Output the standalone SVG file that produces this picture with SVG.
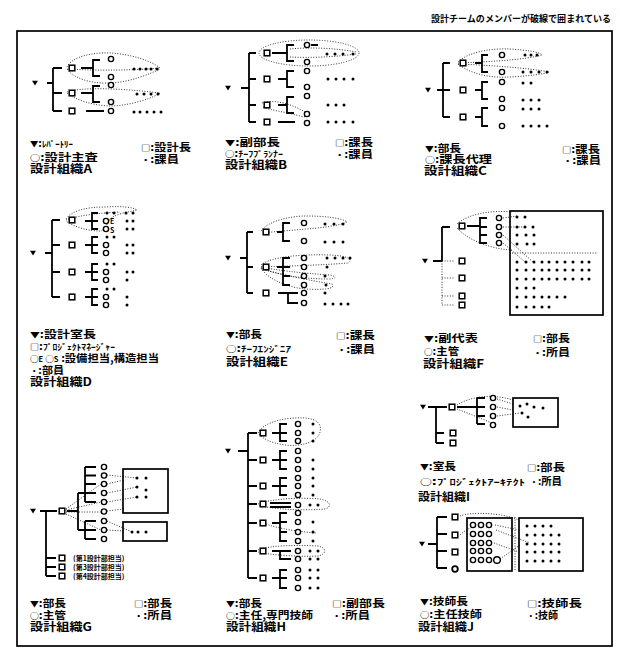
<svg xmlns="http://www.w3.org/2000/svg" width="620" height="651" viewBox="0 0 620 651">
<style>
.ln{fill:none;stroke:#000;stroke-width:1.8}
.dl{fill:none;stroke:#000;stroke-width:0.8;stroke-dasharray:1 1.6}
.bx{fill:none;stroke:#000;stroke-width:1.7}
text{font-family:"Noto Sans CJK JP","Noto Sans CJK SC",sans-serif;font-weight:bold;fill:#000}
.lg{font-size:10.5px}
.ti{font-size:11px}
.sy{font-size:8px}
.kn{font-size:8.5px}
.sm{font-size:7px}
</style>
<defs>
<path id="tri" d="M-3,-2.2 H3 L0,2.6 Z" fill="#000"/>
<rect id="sq" x="-2.8" y="-2.8" width="5.6" height="5.6" fill="#fff" stroke="#000" stroke-width="1.5"/>
<circle id="ci" r="2.6" fill="#fff" stroke="#000" stroke-width="1.4"/>
<circle id="dt" r="1.5" fill="#000"/>
</defs>
<rect x="0" y="0" width="620" height="651" fill="#fff"/>
<text x="431" y="22" font-size="9" textLength="180" lengthAdjust="spacingAndGlyphs">設計チームのメンバーが破線で囲まれている</text>
<rect class="bx" x="17" y="31" width="595" height="615"/>

<!-- Panel A -->
<g id="panel-A">
<g id="A-connectors">
<path class="ln" d="M47,83 H53 M53,68 V111 M53,68 H62 M53,93 H62 M53,111 H62 M81,68 H93 M100,60 H93 V76 H100 M81,93 H93 M100,86 H93 V102 H100 M86,111 H104"/>
<path class="dl" d="M67,67 C72,56 95,52 111,53 C130,54 152,61 160,68 C140,70 100,71 67,69 M67,69 C75,80 95,84 111,83 C130,82 150,74 160,69 M67,92 C80,87 120,88 160,93 C150,100 125,106 111,106 C95,106 75,100 67,93"/>
</g>
<g id="A-nodes">
<use href="#tri" x="35" y="83"/>
<use href="#sq" x="72" y="68"/><use href="#sq" x="72" y="93"/><use href="#sq" x="72" y="111"/>
<use href="#ci" x="111" y="59"/><use href="#ci" x="111" y="77"/><use href="#ci" x="111" y="85"/><use href="#ci" x="111" y="102"/><use href="#ci" x="111" y="111"/>
<use href="#dt" x="134" y="69"/><use href="#dt" x="140" y="69"/><use href="#dt" x="146" y="69"/><use href="#dt" x="151" y="69"/><use href="#dt" x="157" y="69"/>
<use href="#dt" x="137" y="94"/><use href="#dt" x="144" y="94"/><use href="#dt" x="151" y="94"/><use href="#dt" x="158" y="94"/>
<use href="#dt" x="134" y="112"/><use href="#dt" x="140" y="112"/><use href="#dt" x="147" y="112"/><use href="#dt" x="154" y="112"/><use href="#dt" x="161" y="112"/>
</g>
<g id="A-legend">
<text class="lg" x="30" y="147" textLength="43" lengthAdjust="spacingAndGlyphs"><tspan class="sy">▼</tspan>:<tspan class="kn">ﾚﾊﾟｰﾄﾘｰ</tspan></text>
<text class="lg" x="141" y="150.5" textLength="50" lengthAdjust="spacingAndGlyphs"><tspan class="sy">□</tspan>:設計長</text>
<text class="lg" x="30" y="160.5" textLength="68" lengthAdjust="spacingAndGlyphs"><tspan class="sy">○</tspan>:設計主査</text>
<text class="lg" x="141" y="162.5" textLength="38" lengthAdjust="spacingAndGlyphs"><tspan class="sy">・</tspan>:課員</text>
<text class="ti" x="30" y="172.5" textLength="62" lengthAdjust="spacingAndGlyphs">設計組織A</text>
</g>
</g>

<!-- Panel B -->
<g id="panel-B">
<g id="B-connectors">
<path class="ln" d="M241,88 H249 M249,53 V122 M249,53 H256 M249,79 H256 M249,105 H256 M249,122 H256 M272,53 H287 M294,45 H287 V61 H294 M311,45 H318 M278,79 H287 M294,71 H287 V87 H294 M278,105 H287 M294,97 H287 V113 H294 M278,122 H295"/>
<ellipse class="dl" cx="309" cy="53" rx="50" ry="13"/>
<path class="dl" d="M290,49 C310,47 335,48 356,52 M290,57 C310,58 335,57 356,54 M262,103 C275,99 292,104 305,112 C310,116 306,118 300,116 C285,112 270,110 262,107"/>
</g>
<g id="B-nodes">
<use href="#tri" x="228" y="88"/>
<use href="#sq" x="267" y="53"/><use href="#sq" x="267" y="79"/><use href="#sq" x="267" y="105"/><use href="#sq" x="267" y="122"/>
<use href="#ci" x="307" y="45"/><use href="#ci" x="307" y="62"/><use href="#ci" x="307" y="71"/><use href="#ci" x="307" y="87"/><use href="#ci" x="307" y="96"/><use href="#ci" x="307" y="114"/><use href="#ci" x="307" y="123"/>
<use href="#dt" x="327" y="54"/><use href="#dt" x="335" y="54"/><use href="#dt" x="343" y="54"/><use href="#dt" x="353" y="54"/>
<use href="#dt" x="328" y="79"/><use href="#dt" x="336" y="79"/><use href="#dt" x="344" y="79"/><use href="#dt" x="353" y="79"/>
<use href="#dt" x="328" y="105"/><use href="#dt" x="336" y="105"/><use href="#dt" x="344" y="105"/>
<use href="#dt" x="328" y="122"/><use href="#dt" x="336" y="122"/><use href="#dt" x="344" y="122"/><use href="#dt" x="353" y="122"/>
</g>
<g id="B-legend">
<text class="lg" x="225" y="145.5" textLength="55" lengthAdjust="spacingAndGlyphs"><tspan class="sy">▼</tspan>:副部長</text>
<text class="lg" x="335" y="145.5" textLength="38" lengthAdjust="spacingAndGlyphs"><tspan class="sy">□</tspan>:課長</text>
<text class="lg" x="225" y="157" textLength="58" lengthAdjust="spacingAndGlyphs"><tspan class="sy">○</tspan>:<tspan class="kn">ﾁｰﾌﾌﾟﾗﾝﾅｰ</tspan></text>
<text class="lg" x="335" y="157.5" textLength="38" lengthAdjust="spacingAndGlyphs"><tspan class="sy">・</tspan>:課員</text>
<text class="ti" x="225" y="168.5" textLength="62" lengthAdjust="spacingAndGlyphs">設計組織B</text>
</g>
</g>

<!-- Panel C -->
<g id="panel-C">
<g id="C-connectors">
<path class="ln" d="M437,90 H450 M443,63 V117 M443,63 H450 M443,117 H450 M475,63 H482 M488,55 H482 V72 H488 M475,90 H482 M488,82 H482 V99 H488 M475,117 H482 M488,108 H482 V126 H488"/>
<path class="dl" d="M458,62 C468,52 492,48 510,49 C526,50 540,52 542,55 C525,60 485,62 458,63 M458,64 C472,75 492,78 510,77 C528,76 545,74 549,72 C530,68 485,65 458,64"/>
</g>
<g id="C-nodes">
<use href="#tri" x="428" y="90"/>
<use href="#sq" x="463" y="63"/><use href="#sq" x="463" y="90"/><use href="#sq" x="463" y="117"/>
<use href="#ci" x="502" y="55"/><use href="#ci" x="502" y="72"/><use href="#ci" x="502" y="82"/><use href="#ci" x="502" y="99"/><use href="#ci" x="502" y="108"/><use href="#ci" x="502" y="126"/>
<use href="#dt" x="525" y="55"/><use href="#dt" x="531" y="55"/><use href="#dt" x="537" y="55"/>
<use href="#dt" x="523" y="72"/><use href="#dt" x="531" y="72"/><use href="#dt" x="539" y="72"/><use href="#dt" x="547" y="72"/>
<use href="#dt" x="523" y="83"/><use href="#dt" x="531" y="83"/>
<use href="#dt" x="523" y="100"/><use href="#dt" x="531" y="100"/><use href="#dt" x="539" y="100"/>
<use href="#dt" x="523" y="109"/><use href="#dt" x="531" y="109"/><use href="#dt" x="539" y="109"/>
<use href="#dt" x="523" y="126"/><use href="#dt" x="531" y="126"/><use href="#dt" x="539" y="126"/><use href="#dt" x="547" y="126"/>
</g>
<g id="C-legend">
<text class="lg" x="425" y="151.5" textLength="36" lengthAdjust="spacingAndGlyphs"><tspan class="sy">▼</tspan>:部長</text>
<text class="lg" x="562" y="152.5" textLength="38" lengthAdjust="spacingAndGlyphs"><tspan class="sy">□</tspan>:課長</text>
<text class="lg" x="425" y="162.5" textLength="67" lengthAdjust="spacingAndGlyphs"><tspan class="sy">○</tspan>:課長代理</text>
<text class="lg" x="563" y="164" textLength="38" lengthAdjust="spacingAndGlyphs"><tspan class="sy">・</tspan>:課員</text>
<text class="ti" x="424" y="174.5" textLength="63" lengthAdjust="spacingAndGlyphs">設計組織C</text>
</g>
</g>

<!-- Panel D -->
<g id="panel-D">
<g id="D-connectors">
<path class="ln" d="M45,253 H52 M52,220 V297 M52,220 H60 M52,245 H60 M52,272 H60 M52,297 H60 M85,221 H98 M98,213 H92 V229 H98 M85,245 H98 M98,237 H92 V253 H98 M85,272 H98 M98,264 H92 V280 H98 M85,297 H98 M98,289 H92 V305 H98"/>
<path class="dl" d="M66,219 C72,210 88,207 105,207 C120,206 133,207 137,210 C128,212 115,214 110,219 C106,226 104,231 100,231 C88,231 74,227 66,221 M66,220 C80,215 100,213 120,212"/>
</g>
<g id="D-nodes">
<use href="#tri" x="33" y="253"/>
<use href="#sq" x="72" y="220"/><use href="#sq" x="72" y="245"/><use href="#sq" x="72" y="272"/><use href="#sq" x="72" y="297"/>
<use href="#ci" x="106" y="221"/><use href="#ci" x="106" y="229"/><use href="#ci" x="106" y="245"/><use href="#ci" x="106" y="253"/><use href="#ci" x="106" y="272"/><use href="#ci" x="106" y="280"/><use href="#ci" x="106" y="297"/><use href="#ci" x="106" y="305"/>
<text class="sm" x="110" y="224">E</text><text class="sm" x="110" y="232.5">S</text>
<use href="#dt" x="107" y="213"/><use href="#dt" x="114" y="213"/><use href="#dt" x="126" y="213"/><use href="#dt" x="133" y="213"/>
<use href="#dt" x="127" y="221"/><use href="#dt" x="133" y="221"/><use href="#dt" x="127" y="229"/><use href="#dt" x="133" y="229"/>
<use href="#dt" x="107" y="237"/><use href="#dt" x="114" y="237"/><use href="#dt" x="127" y="245"/><use href="#dt" x="133" y="245"/><use href="#dt" x="127" y="253"/><use href="#dt" x="133" y="253"/>
<use href="#dt" x="107" y="264"/><use href="#dt" x="114" y="264"/><use href="#dt" x="127" y="272"/><use href="#dt" x="133" y="272"/><use href="#dt" x="127" y="280"/>
<use href="#dt" x="107" y="289"/><use href="#dt" x="114" y="289"/><use href="#dt" x="127" y="297"/><use href="#dt" x="127" y="305"/>
</g>
<g id="D-legend">
<text class="lg" x="30" y="337.5" textLength="66" lengthAdjust="spacingAndGlyphs"><tspan class="sy">▼</tspan>:設計室長</text>
<text class="lg" x="30" y="349.5" textLength="85" lengthAdjust="spacingAndGlyphs"><tspan class="sy">□</tspan>:<tspan class="kn">ﾌﾟﾛｼﾞｪｸﾄﾏﾈｰｼﾞｬｰ</tspan></text>
<text class="lg" x="30" y="361.5" textLength="129" lengthAdjust="spacingAndGlyphs"><tspan class="sy">○</tspan><tspan class="sm">E</tspan><tspan class="sy"> ○</tspan><tspan class="sm">S</tspan> :設備担当,構造担当</text>
<text class="lg" x="30" y="374" textLength="34" lengthAdjust="spacingAndGlyphs"><tspan class="sy">・</tspan>:部員</text>
<text class="ti" x="30" y="386" textLength="62" lengthAdjust="spacingAndGlyphs">設計組織D</text>
</g>
</g>

<!-- Panel E -->
<g id="panel-E">
<g id="E-connectors">
<path class="ln" d="M240,258 H247 M247,232 V293 M247,232 H253 M247,267 H253 M247,293 H253 M277,232 H283 M290,223 H283 V241 H290 M277,267 H290 M290,258 H283 V285 H290 M283,276 H290 M278,293 H298 M288,293 V303 H298"/>
<path class="dl" d="M261,231 C268,221 290,216 306,216 C325,216 342,218 347,222 C335,228 300,229 262,233 M261,265 C270,257 300,254 330,255 C350,256 353,260 348,263 C325,265 290,266 261,267 M261,267 C275,270 300,273 330,275 C338,277 336,279 328,279 C300,279 275,274 261,268 M261,268 C268,280 290,288 306,289 C322,290 337,289 332,284 C320,282 295,278 261,269"/>
</g>
<g id="E-nodes">
<use href="#tri" x="228" y="258"/>
<use href="#sq" x="266" y="232"/><use href="#sq" x="266" y="267"/><use href="#sq" x="266" y="293"/>
<use href="#ci" x="304" y="223"/><use href="#ci" x="304" y="241"/><use href="#ci" x="304" y="258"/><use href="#ci" x="304" y="267"/><use href="#ci" x="304" y="276"/><use href="#ci" x="304" y="285"/><use href="#ci" x="304" y="293"/><use href="#ci" x="304" y="303"/>
<use href="#dt" x="325" y="224"/><use href="#dt" x="334" y="224"/><use href="#dt" x="343" y="224"/>
<use href="#dt" x="325" y="242"/><use href="#dt" x="334" y="242"/><use href="#dt" x="343" y="242"/>
<use href="#dt" x="327" y="258"/><use href="#dt" x="335" y="258"/><use href="#dt" x="343" y="258"/><use href="#dt" x="350" y="258"/>
<use href="#dt" x="327" y="267"/><use href="#dt" x="325" y="276"/><use href="#dt" x="326" y="285"/><use href="#dt" x="325" y="293"/>
<use href="#dt" x="325" y="304"/><use href="#dt" x="333" y="304"/><use href="#dt" x="341" y="304"/><use href="#dt" x="348" y="304"/>
</g>
<g id="E-legend">
<text class="lg" x="226" y="337.5" textLength="36" lengthAdjust="spacingAndGlyphs"><tspan class="sy">▼</tspan>:部長</text>
<text class="lg" x="336" y="339" textLength="39" lengthAdjust="spacingAndGlyphs"><tspan class="sy">□</tspan>:課長</text>
<text class="lg" x="226" y="351.5" textLength="65" lengthAdjust="spacingAndGlyphs"><tspan class="sy">○</tspan>:<tspan class="kn">ﾁｰﾌｴﾝｼﾞﾆｱ</tspan></text>
<text class="lg" x="337" y="353" textLength="38" lengthAdjust="spacingAndGlyphs"><tspan class="sy">・</tspan>:課員</text>
<text class="ti" x="226" y="366" textLength="62" lengthAdjust="spacingAndGlyphs">設計組織E</text>
</g>
</g>

<!-- Panel F -->
<g id="panel-F">
<g id="F-connectors">
<path class="ln" d="M433,261 H442 M442,227 V261 M442,227 H450 M467,226 H480 M487,218 H480 V243 H487 M480,227 H487 M480,235 H487"/>
<path class="dl" d="M442,261 V305 M442,261 H455 M442,278 H455 M442,296 H455 M442,305 H455 M457,224 C468,214 490,210 512,212 M457,228 C468,240 490,249 512,250 M503,218 L517,216 M503,227 L525,227 M503,235 L533,262 M503,243 L525,262 M512,253 H598"/>
</g>
<g id="F-nodes">
<use href="#tri" x="425" y="261"/>
<rect class="bx" x="510" y="211" width="93" height="104"/>
<use href="#sq" x="462" y="226"/><use href="#sq" x="462" y="261"/><use href="#sq" x="462" y="278"/><use href="#sq" x="462" y="296"/><use href="#sq" x="462" y="305"/>
<use href="#ci" x="499" y="218"/><use href="#ci" x="499" y="227"/><use href="#ci" x="499" y="235"/><use href="#ci" x="499" y="243"/>
<use href="#dt" x="517" y="217"/><use href="#dt" x="525" y="217"/>
<use href="#dt" x="517" y="227"/><use href="#dt" x="525" y="227"/><use href="#dt" x="533" y="227"/>
<use href="#dt" x="517" y="235"/><use href="#dt" x="526" y="235"/><use href="#dt" x="534" y="235"/>
<use href="#dt" x="517" y="244"/><use href="#dt" x="527" y="244"/><use href="#dt" x="534" y="244"/>
<use href="#dt" x="517" y="262"/><use href="#dt" x="526" y="262"/><use href="#dt" x="534" y="262"/><use href="#dt" x="542" y="262"/><use href="#dt" x="549" y="262"/><use href="#dt" x="557" y="262"/><use href="#dt" x="565" y="262"/><use href="#dt" x="573" y="262"/><use href="#dt" x="582" y="262"/><use href="#dt" x="589" y="262"/>
<use href="#dt" x="517" y="270"/><use href="#dt" x="526" y="270"/><use href="#dt" x="534" y="270"/><use href="#dt" x="542" y="270"/><use href="#dt" x="549" y="270"/><use href="#dt" x="557" y="270"/><use href="#dt" x="565" y="270"/><use href="#dt" x="573" y="270"/><use href="#dt" x="582" y="270"/><use href="#dt" x="589" y="270"/>
<use href="#dt" x="517" y="279"/><use href="#dt" x="526" y="279"/><use href="#dt" x="534" y="279"/><use href="#dt" x="542" y="279"/><use href="#dt" x="549" y="279"/><use href="#dt" x="557" y="279"/><use href="#dt" x="565" y="279"/><use href="#dt" x="573" y="279"/><use href="#dt" x="582" y="279"/><use href="#dt" x="589" y="279"/>
<use href="#dt" x="517" y="288"/><use href="#dt" x="526" y="288"/><use href="#dt" x="534" y="288"/>
<use href="#dt" x="517" y="297"/><use href="#dt" x="526" y="297"/><use href="#dt" x="534" y="297"/><use href="#dt" x="542" y="297"/><use href="#dt" x="549" y="297"/><use href="#dt" x="557" y="297"/><use href="#dt" x="565" y="297"/>
<use href="#dt" x="517" y="307"/><use href="#dt" x="526" y="307"/><use href="#dt" x="534" y="307"/><use href="#dt" x="542" y="307"/><use href="#dt" x="549" y="307"/>
</g>
<g id="F-legend">
<text class="lg" x="424" y="341.5" textLength="54" lengthAdjust="spacingAndGlyphs"><tspan class="sy">▼</tspan>:副代表</text>
<text class="lg" x="533" y="341.5" textLength="37" lengthAdjust="spacingAndGlyphs"><tspan class="sy">□</tspan>:部長</text>
<text class="lg" x="424" y="354.5" textLength="35" lengthAdjust="spacingAndGlyphs"><tspan class="sy">○</tspan>:主管</text>
<text class="lg" x="533" y="356" textLength="37" lengthAdjust="spacingAndGlyphs"><tspan class="sy">・</tspan>:所員</text>
<text class="ti" x="423" y="367.5" textLength="61" lengthAdjust="spacingAndGlyphs">設計組織F</text>
</g>
</g>

<!-- Panel G -->
<g id="panel-G">
<g id="G-connectors">
<path class="ln" d="M40,511 H57 M46,511 V576 M46,558 H56 M46,567 H56 M46,576 H56 M67,511 H78 M78,493 V530 M78,493 H85 M78,530 H85 M85,467 V502 M85,467 H96 M85,475.5 H96 M85,484 H96 M85,493 H96 M85,502 H96 M85,521 V539 M85,521 H96 M85,530 H96 M85,539 H96"/>
<path class="dl" d="M66,509 L101,484 M66,510 L101,502 M66,512 H101 M66,514 L101,530 M107,484 L124,480 M107,493 L137,487 M107,502 L137,497 M107,511 L124,509 M107,521 L132,532 M107,530 L124,531 M107,475 L137,478"/>
</g>
<g id="G-nodes">
<use href="#tri" x="33" y="511"/>
<rect class="bx" x="123" y="469" width="45" height="44"/>
<rect class="bx" x="123" y="522" width="44" height="19"/>
<use href="#sq" x="62" y="511"/><use href="#sq" x="62" y="558"/><use href="#sq" x="62" y="567"/><use href="#sq" x="62" y="576"/>
<use href="#ci" x="104" y="467"/><use href="#ci" x="104" y="475.5"/><use href="#ci" x="104" y="484"/><use href="#ci" x="104" y="493"/><use href="#ci" x="104" y="502"/><use href="#ci" x="104" y="511.5"/><use href="#ci" x="104" y="521"/><use href="#ci" x="104" y="530"/><use href="#ci" x="104" y="539"/>
<use href="#dt" x="137" y="478"/><use href="#dt" x="146" y="478"/><use href="#dt" x="137" y="487"/><use href="#dt" x="146" y="490"/><use href="#dt" x="137" y="497"/><use href="#dt" x="146" y="497"/>
<use href="#dt" x="132" y="532"/><use href="#dt" x="138" y="532"/><use href="#dt" x="146" y="532"/>
<text class="sm" x="73" y="560.5">(第1設計部担当)</text>
<text class="sm" x="73" y="569.5">(第3設計部担当)</text>
<text class="sm" x="73" y="578.5">(第4設計部担当)</text>
</g>
<g id="G-legend">
<text class="lg" x="30" y="606.5" textLength="36" lengthAdjust="spacingAndGlyphs"><tspan class="sy">▼</tspan>:部長</text>
<text class="lg" x="134" y="606.5" textLength="38" lengthAdjust="spacingAndGlyphs"><tspan class="sy">□</tspan>:部長</text>
<text class="lg" x="30" y="618.5" textLength="36" lengthAdjust="spacingAndGlyphs"><tspan class="sy">○</tspan>:主管</text>
<text class="lg" x="134" y="618.5" textLength="38" lengthAdjust="spacingAndGlyphs"><tspan class="sy">・</tspan>:所員</text>
<text class="ti" x="30" y="630.5" textLength="62" lengthAdjust="spacingAndGlyphs">設計組織G</text>
</g>
</g>

<!-- Panel H -->
<g id="panel-H">
<g id="H-connectors">
<path class="ln" d="M238,451 H248 M248,433 V578 M248,433 H257 M248,460 H257 M248,486 H257 M248,504 H257 M248,523 H257 M248,551 H257 M248,578 H257 M272,433 H287 M287,424 H280 V441 H287 M272,460 H287 M287,451 H280 V469 H287 M272,486 H287 M287,478 H280 V495 H287 M270,503 H291 M270,507 H291 M272,523 H280 M287,513 H280 V541 H287 M280,522 H287 M280,532 H287 M272,551 H291 M280,551 V559 H291 M272,578 H287 M287,570 H280 V588 H287"/>
<path class="dl" d="M258,433 C264,421 288,417 305,418 C318,419 322,425 320,432 C318,442 300,447 285,445 C270,443 262,438 258,433 Z M258,504 C270,499 300,497 320,499 C331,501 332,507 325,509 C300,511 270,509 258,505 M259,521 C270,527 292,531 316,533 M258,550 C270,545 300,545 318,546 C327,548 327,554 318,556 C300,557 270,555 258,552"/>
</g>
<g id="H-nodes">
<use href="#tri" x="228" y="451"/>
<use href="#sq" x="263" y="433"/><use href="#sq" x="263" y="460"/><use href="#sq" x="263" y="486"/><use href="#sq" x="263" y="504"/><use href="#sq" x="263" y="523"/><use href="#sq" x="263" y="551"/><use href="#sq" x="263" y="578"/>
<use href="#ci" x="298" y="424"/><use href="#ci" x="298" y="433"/><use href="#ci" x="298" y="441"/><use href="#ci" x="298" y="451"/><use href="#ci" x="298" y="460"/><use href="#ci" x="298" y="469"/><use href="#ci" x="298" y="478"/><use href="#ci" x="298" y="486"/><use href="#ci" x="298" y="495"/><use href="#ci" x="298" y="505"/><use href="#ci" x="298" y="513"/><use href="#ci" x="298" y="522"/><use href="#ci" x="298" y="532"/><use href="#ci" x="298" y="541"/><use href="#ci" x="298" y="551"/><use href="#ci" x="298" y="559"/><use href="#ci" x="298" y="570"/><use href="#ci" x="298" y="578"/><use href="#ci" x="298" y="588"/>
<use href="#dt" x="313" y="424"/><use href="#dt" x="313" y="433"/><use href="#dt" x="313" y="441"/><use href="#dt" x="313" y="460"/><use href="#dt" x="313" y="469"/><use href="#dt" x="313" y="478"/><use href="#dt" x="313" y="486"/><use href="#dt" x="313" y="495"/><use href="#dt" x="313" y="522"/><use href="#dt" x="313" y="532"/><use href="#dt" x="313" y="541"/>
<use href="#dt" x="310" y="505"/><use href="#dt" x="318" y="505"/><use href="#dt" x="310" y="551"/><use href="#dt" x="318" y="551"/><use href="#dt" x="310" y="559"/><use href="#dt" x="318" y="559"/><use href="#dt" x="310" y="570"/><use href="#dt" x="318" y="570"/><use href="#dt" x="310" y="578"/><use href="#dt" x="318" y="578"/><use href="#dt" x="310" y="588"/><use href="#dt" x="318" y="588"/>
</g>
<g id="H-legend">
<text class="lg" x="226" y="606.5" textLength="36" lengthAdjust="spacingAndGlyphs"><tspan class="sy">▼</tspan>:部長</text>
<text class="lg" x="332" y="606.5" textLength="53" lengthAdjust="spacingAndGlyphs"><tspan class="sy">□</tspan>:副部長</text>
<text class="lg" x="226" y="618.5" textLength="87" lengthAdjust="spacingAndGlyphs"><tspan class="sy">○</tspan>:主任,専門技師</text>
<text class="lg" x="332" y="619" textLength="38" lengthAdjust="spacingAndGlyphs"><tspan class="sy">・</tspan>:所員</text>
<text class="ti" x="226" y="630.5" textLength="60" lengthAdjust="spacingAndGlyphs">設計組織H</text>
</g>
</g>

<!-- Panel I -->
<g id="panel-I">
<g id="I-connectors">
<path class="ln" d="M428,407 H447 M436,407 V443 M436,433 H444 M436,443 H444 M457,407 H485 M477,398 V424 M477,398 H485 M477,416 H485 M477,424 H485"/>
<path class="dl" d="M457,405 C470,397 490,393 513,400 M457,409 C470,414 485,420 496,425 M497,407 L513,410 M497,416 L520,413 M497,399 L513,404"/>
</g>
<g id="I-nodes">
<use href="#tri" x="423" y="407"/>
<rect class="bx" x="513" y="398" width="45" height="29"/>
<use href="#sq" x="452" y="407"/><use href="#sq" x="453" y="433"/><use href="#sq" x="453" y="443"/>
<use href="#ci" x="493" y="398"/><use href="#ci" x="493" y="407"/><use href="#ci" x="493" y="416"/><use href="#ci" x="493" y="425"/>
<use href="#dt" x="520" y="406"/><use href="#dt" x="527" y="404"/><use href="#dt" x="534" y="407"/><use href="#dt" x="543" y="408"/><use href="#dt" x="522" y="413"/><use href="#dt" x="528" y="417"/>
</g>
<g id="I-legend">
<text class="lg" x="420" y="469.5" textLength="36" lengthAdjust="spacingAndGlyphs"><tspan class="sy">▼</tspan>:室長</text>
<text class="lg" x="527" y="470.5" textLength="38" lengthAdjust="spacingAndGlyphs"><tspan class="sy">□</tspan>:部長</text>
<text class="lg" x="420" y="485" textLength="105" lengthAdjust="spacingAndGlyphs"><tspan class="sy">○</tspan>:<tspan class="kn">ﾌﾟﾛｼﾞｪｸﾄｱｰｷﾃｸﾄ</tspan></text>
<text class="lg" x="530" y="485" textLength="32" lengthAdjust="spacingAndGlyphs"><tspan class="sy">・</tspan>:所員</text>
<text class="ti" x="418" y="500.5" textLength="52" lengthAdjust="spacingAndGlyphs">設計組織I</text>
</g>
</g>

<!-- Panel J -->
<g id="panel-J">
<g id="J-connectors">
<path class="ln" d="M428,544 H437 M437,517 V568 M437,517 H447 M437,534 H447 M437,551 H447 M437,568 H447"/>
<path class="dl" d="M515,517 V571 M460,516 C470,512 500,512 519,520 M460,535 C465,530 470,528 476,526 M495,525 L519,530 M496,530 L530,543 M500,559 L520,545 M494,543 L519,552"/>
</g>
<g id="J-nodes">
<use href="#tri" x="422" y="544"/>
<rect class="bx" x="467" y="518" width="45" height="53"/>
<rect class="bx" x="519" y="518" width="64" height="53"/>
<use href="#sq" x="455" y="517"/><use href="#sq" x="455" y="535"/><use href="#sq" x="455" y="552"/>
<circle cx="455" cy="569" r="2.8" fill="#fff" stroke="#000" stroke-width="1.8"/>
<use href="#ci" x="473" y="525"/><use href="#ci" x="481" y="525"/><use href="#ci" x="489" y="525"/>
<use href="#ci" x="473" y="534"/><use href="#ci" x="481" y="534"/><use href="#ci" x="489" y="534"/>
<use href="#ci" x="473" y="543"/><use href="#ci" x="481" y="543"/><use href="#ci" x="489" y="543"/>
<use href="#ci" x="473" y="551"/><use href="#ci" x="481" y="551"/><use href="#ci" x="489" y="551"/>
<use href="#ci" x="473" y="560"/><use href="#ci" x="481" y="560"/><use href="#ci" x="489" y="560"/>
<circle cx="497" cy="560" r="3.3" fill="#fff" stroke="#000" stroke-width="1.4"/>
<use href="#dt" x="527" y="526"/><use href="#dt" x="535" y="526"/><use href="#dt" x="543" y="526"/><use href="#dt" x="551" y="526"/>
<use href="#dt" x="527" y="535"/><use href="#dt" x="535" y="535"/><use href="#dt" x="543" y="535"/><use href="#dt" x="551" y="535"/><use href="#dt" x="559" y="535"/>
<use href="#dt" x="527" y="544"/><use href="#dt" x="535" y="544"/><use href="#dt" x="543" y="544"/><use href="#dt" x="551" y="544"/><use href="#dt" x="559" y="544"/>
<use href="#dt" x="527" y="552"/><use href="#dt" x="535" y="552"/><use href="#dt" x="543" y="552"/><use href="#dt" x="551" y="552"/><use href="#dt" x="559" y="552"/>
<use href="#dt" x="527" y="561"/><use href="#dt" x="535" y="561"/><use href="#dt" x="543" y="561"/><use href="#dt" x="551" y="561"/><use href="#dt" x="559" y="561"/>
</g>
<g id="J-legend">
<text class="lg" x="420" y="604.5" textLength="48" lengthAdjust="spacingAndGlyphs"><tspan class="sy">▼</tspan>:技師長</text>
<text class="lg" x="527" y="606.5" textLength="55" lengthAdjust="spacingAndGlyphs"><tspan class="sy">□</tspan>:技師長</text>
<text class="lg" x="420" y="617.5" textLength="62" lengthAdjust="spacingAndGlyphs"><tspan class="sy">○</tspan>:主任技師</text>
<text class="lg" x="527" y="618.5" textLength="31" lengthAdjust="spacingAndGlyphs"><tspan class="sy">・</tspan>:技師</text>
<text class="ti" x="418" y="630.5" textLength="56" lengthAdjust="spacingAndGlyphs">設計組織J</text>
</g>
</g>
</svg>
